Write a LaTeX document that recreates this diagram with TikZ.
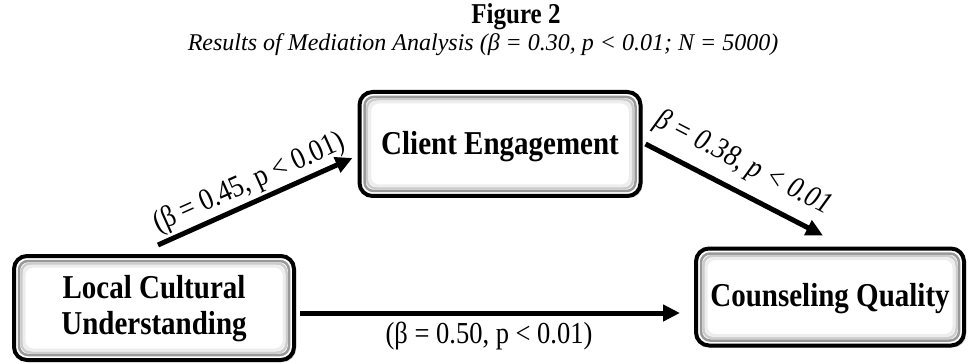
\documentclass[tikz,border=0pt]{standalone}
\usepackage{graphicx}
\usepackage{fontspec}
\setmainfont{Liberation Serif}
\usetikzlibrary{arrows.meta,calc,shadows}

% slightly tall lettering
\newcommand\tallt[1]{\scalebox{1}[1.15]{#1}}

\tikzset{
  boxnode/.style={draw=black, line width=4pt, rounded corners=13pt, fill=white,
    inner sep=0pt,
    drop shadow={shadow xshift=2pt, shadow yshift=-2pt, opacity=0.35, fill=black!60}},
  boxtext/.style={font=\fontsize{29}{36}\selectfont\bfseries, align=center},
  bevel/.style={rounded corners=9pt},
  flow/.style={line width=5pt, -{Triangle[length=17pt,width=16pt]}},
  coef/.style={font=\fontsize{26.5}{30}\selectfont, inner sep=2pt},
}

% grey inner bevel of a box
\newcommand\bevelbox[1]{%
  \draw[bevel, black!40, line width=2.5pt]
    ([shift={(7pt,-7pt)}]#1.north west) rectangle ([shift={(-7pt,7pt)}]#1.south east);
  \draw[bevel, black!20, line width=2.5pt]
    ([shift={(9.5pt,-9.5pt)}]#1.north west) rectangle ([shift={(-9.5pt,9.5pt)}]#1.south east);
  \draw[bevel, black!7, line width=3pt]
    ([shift={(12pt,-12pt)}]#1.north west) rectangle ([shift={(-12pt,12pt)}]#1.south east);
}

\begin{document}
\begin{tikzpicture}[x=1pt,y=-1pt]
\useasboundingbox[fill=white] (0,0) rectangle (968,363);

% heading
\node[font=\fontsize{25}{28}\selectfont\bfseries] (fig) at (516,17) {\tallt{Figure 2}};
\node[font=\fontsize{24}{27}\selectfont\itshape] (sub) at (483,45)
  {Results of Mediation Analysis (β = 0.30, p < 0.01; N = 5000)};

% the three constructs
\node[boxnode, minimum width=280pt, minimum height=104pt] (lcu) at (154,308) {};
\bevelbox{lcu}
\node[boxtext] (lcut) at ([yshift=-1pt]lcu) {\tallt{Local Cultural}\\\tallt{Understanding}};

\node[boxnode, minimum width=281pt, minimum height=104pt] (ce) at (500,144) {};
\bevelbox{ce}
\node[boxtext] (cet) at ([yshift=-3pt]ce) {\tallt{Client Engagement}};

\node[boxnode, minimum width=268pt, minimum height=97pt] (cq) at (830,297) {};
\bevelbox{cq}
\node[boxtext] (cqt) at ([yshift=-2pt]cq) {\tallt{Counseling Quality}};

% paths
\draw[flow] ([xshift=146pt,yshift=9pt]lcu.north west)
  -- node[coef, sloped, above=0.5pt, pos=0.51] (a) {\tallt{(β = 0.45, p < 0.01)}}
  ([xshift=-5pt,yshift=-14pt]ce.west);
\draw[flow] ([xshift=3pt]ce.east)
  -- node[coef, sloped, above=9pt, pos=0.48, font=\fontsize{26.5}{30}\selectfont\itshape] (b) {\tallt{β = 0.38, p < 0.01}}
  ([xshift=-7pt,yshift=11pt]cq.north);
\draw[flow] ([xshift=4pt,yshift=-5pt]lcu.east)
  -- ([xshift=-14pt,yshift=-16pt]cq.west);
\node[coef] (c) at (489,336) {\tallt{(β = 0.50, p < 0.01)}};
\end{tikzpicture}
\end{document}
